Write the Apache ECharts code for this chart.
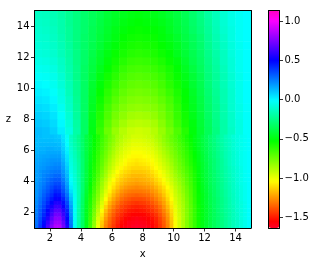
<!DOCTYPE html>
<html><head><meta charset="utf-8">
<style>html,body{margin:0;padding:0;background:#fff}#c{width:317px;height:266px}</style>
<script src="https://cdn.jsdelivr.net/npm/echarts@6/dist/echarts.min.js"></script>
</head><body><div id="c"></div>
<script>
const xFine=[1.125,1.375,1.625,1.875,2.125,2.375,2.625,2.875,3.125,3.375,3.625,3.875,4.125,4.375,4.625,4.875,5.125,5.375,5.625,5.875,6.125,6.375,6.625,6.875,7.125,7.375,7.625,7.875,8.125,8.375,8.625,8.875,9.125,9.375,9.625,9.875,10.125,10.375,10.625,10.875,11.125,11.375,11.625,11.875,12.125,12.375,12.625,12.875,13.125,13.375,13.625,13.875,14.125,14.375,14.625,14.875];
const zFine=[1.125,1.375,1.625,1.875,2.125,2.375,2.625,2.875,3.125,3.375,3.625,3.875,4.125,4.375,4.625,4.875,5.125,5.375,5.625,5.875,6.125,6.375,6.625,6.875];
const xCoarse=[1.25,1.75,2.25,2.75,3.25,3.75,4.25,4.75,5.25,5.75,6.25,6.75,7.25,7.75,8.25,8.75,9.25,9.75,10.25,10.75,11.25,11.75,12.25,12.75,13.25,13.75,14.25,14.75];
const zCoarse=[7.25,7.75,8.25,8.75,9.25,9.75,10.25,10.75,11.25,11.75,12.25,12.75,13.25,13.75,14.25,14.75];
const fieldLow=[
[.28,.39,.51,.64,.76,.85,.85,.72,.55,.27,-.03,-.19,-.33,-.48,-.65,-.82,-1.01,-1.16,-1.29,-1.37,-1.44,-1.5,-1.55,-1.58,-1.6,-1.62,-1.63,-1.62,-1.61,-1.59,-1.56,-1.51,-1.45,-1.38,-1.29,-1.17,-1.03,-.95,-.87,-.79,-.71,-.63,-.55,-.49,-.44,-.39,-.35,-.31,-.27,-.23,-.19,-.15,-.12,-.08,-.05,-.01],
[.27,.37,.48,.6,.72,.81,.81,.69,.52,.25,-.03,-.19,-.33,-.48,-.64,-.81,-.99,-1.14,-1.27,-1.35,-1.42,-1.48,-1.53,-1.56,-1.59,-1.6,-1.61,-1.6,-1.59,-1.57,-1.54,-1.5,-1.44,-1.37,-1.28,-1.16,-1.03,-.95,-.87,-.79,-.71,-.63,-.55,-.49,-.44,-.39,-.35,-.31,-.27,-.23,-.19,-.15,-.12,-.08,-.05,-.01],
[.26,.35,.45,.56,.68,.77,.77,.65,.49,.24,-.03,-.19,-.33,-.47,-.63,-.79,-.96,-1.11,-1.24,-1.33,-1.4,-1.46,-1.5,-1.54,-1.56,-1.58,-1.59,-1.58,-1.57,-1.55,-1.52,-1.48,-1.42,-1.35,-1.26,-1.15,-1.02,-.95,-.87,-.79,-.71,-.63,-.55,-.49,-.44,-.39,-.35,-.31,-.27,-.23,-.19,-.15,-.12,-.08,-.05,-.01],
[.25,.33,.42,.52,.63,.72,.72,.61,.46,.22,-.03,-.19,-.33,-.47,-.62,-.77,-.93,-1.08,-1.21,-1.3,-1.37,-1.43,-1.47,-1.51,-1.53,-1.55,-1.55,-1.55,-1.54,-1.52,-1.49,-1.45,-1.39,-1.32,-1.24,-1.13,-1.01,-.94,-.87,-.79,-.71,-.63,-.55,-.49,-.44,-.39,-.35,-.31,-.27,-.23,-.19,-.15,-.12,-.08,-.05,-.01],
[.24,.32,.4,.49,.59,.67,.67,.57,.43,.2,-.03,-.19,-.33,-.47,-.61,-.75,-.9,-1.03,-1.17,-1.27,-1.34,-1.4,-1.44,-1.47,-1.5,-1.51,-1.52,-1.51,-1.5,-1.48,-1.45,-1.41,-1.36,-1.29,-1.21,-1.11,-1.0,-.93,-.86,-.79,-.71,-.63,-.55,-.49,-.44,-.39,-.35,-.3,-.26,-.22,-.19,-.15,-.11,-.08,-.05,-.01],
[.23,.3,.37,.45,.54,.61,.61,.52,.39,.18,-.03,-.18,-.33,-.46,-.6,-.73,-.87,-.99,-1.13,-1.23,-1.3,-1.36,-1.41,-1.44,-1.46,-1.48,-1.49,-1.48,-1.47,-1.45,-1.42,-1.38,-1.33,-1.26,-1.18,-1.09,-.99,-.92,-.86,-.78,-.71,-.63,-.55,-.49,-.44,-.39,-.34,-.3,-.26,-.22,-.18,-.15,-.11,-.08,-.05,-.01],
[.22,.28,.35,.42,.49,.56,.56,.47,.35,.15,-.04,-.18,-.32,-.46,-.59,-.71,-.84,-.96,-1.08,-1.19,-1.26,-1.32,-1.37,-1.4,-1.42,-1.44,-1.45,-1.44,-1.43,-1.41,-1.38,-1.34,-1.29,-1.23,-1.15,-1.07,-.97,-.91,-.85,-.78,-.7,-.62,-.54,-.48,-.43,-.38,-.34,-.3,-.26,-.22,-.18,-.14,-.11,-.08,-.05,-.01],
[.21,.27,.33,.39,.45,.51,.51,.43,.31,.12,-.04,-.17,-.32,-.45,-.58,-.7,-.81,-.93,-1.04,-1.14,-1.22,-1.28,-1.33,-1.36,-1.38,-1.4,-1.4,-1.4,-1.39,-1.37,-1.34,-1.3,-1.25,-1.2,-1.12,-1.04,-.96,-.9,-.84,-.77,-.7,-.62,-.54,-.48,-.43,-.38,-.34,-.3,-.26,-.22,-.18,-.14,-.11,-.07,-.04,-.01],
[.2,.25,.31,.36,.41,.47,.46,.38,.27,.09,-.05,-.17,-.31,-.44,-.57,-.68,-.79,-.9,-1.0,-1.1,-1.18,-1.24,-1.29,-1.32,-1.34,-1.35,-1.36,-1.35,-1.34,-1.33,-1.3,-1.26,-1.22,-1.16,-1.09,-1.02,-.94,-.89,-.83,-.76,-.69,-.61,-.54,-.48,-.43,-.38,-.33,-.29,-.25,-.21,-.17,-.14,-.1,-.07,-.04,-.01],
[.2,.24,.29,.33,.38,.43,.42,.34,.23,.05,-.06,-.17,-.3,-.43,-.55,-.66,-.77,-.87,-.97,-1.06,-1.14,-1.2,-1.25,-1.28,-1.3,-1.31,-1.31,-1.31,-1.3,-1.29,-1.26,-1.23,-1.18,-1.13,-1.07,-1.0,-.93,-.87,-.81,-.75,-.68,-.61,-.53,-.47,-.42,-.37,-.33,-.29,-.25,-.21,-.17,-.13,-.1,-.07,-.04,-.01],
[.19,.23,.27,.31,.35,.39,.38,.31,.2,.02,-.07,-.17,-.3,-.42,-.54,-.65,-.75,-.85,-.94,-1.03,-1.1,-1.16,-1.21,-1.24,-1.26,-1.27,-1.28,-1.27,-1.26,-1.25,-1.23,-1.19,-1.15,-1.1,-1.04,-.98,-.91,-.86,-.8,-.74,-.67,-.6,-.53,-.47,-.42,-.37,-.33,-.28,-.24,-.2,-.17,-.13,-.1,-.07,-.04,-.01],
[.19,.22,.25,.29,.32,.35,.35,.28,.17,0,-.08,-.18,-.3,-.41,-.52,-.63,-.73,-.83,-.92,-1.01,-1.07,-1.13,-1.17,-1.2,-1.22,-1.23,-1.24,-1.23,-1.22,-1.21,-1.19,-1.15,-1.11,-1.06,-1.01,-.95,-.89,-.84,-.78,-.72,-.66,-.59,-.52,-.46,-.41,-.36,-.32,-.28,-.24,-.2,-.16,-.13,-.09,-.06,-.04,-.01],
[.18,.21,.24,.27,.3,.32,.32,.25,.15,-.02,-.09,-.18,-.3,-.41,-.51,-.61,-.71,-.81,-.89,-.98,-1.04,-1.1,-1.14,-1.17,-1.19,-1.2,-1.21,-1.2,-1.19,-1.18,-1.16,-1.12,-1.08,-1.03,-.98,-.93,-.87,-.82,-.77,-.71,-.65,-.58,-.52,-.46,-.41,-.36,-.32,-.28,-.24,-.2,-.16,-.13,-.09,-.06,-.03,-.01],
[.18,.2,.23,.25,.27,.29,.29,.22,.13,-.03,-.1,-.19,-.3,-.4,-.5,-.6,-.69,-.78,-.86,-.95,-1.01,-1.07,-1.11,-1.14,-1.16,-1.18,-1.18,-1.18,-1.17,-1.15,-1.13,-1.09,-1.05,-1.01,-.96,-.91,-.85,-.8,-.75,-.7,-.64,-.58,-.51,-.45,-.4,-.36,-.31,-.27,-.23,-.19,-.16,-.12,-.09,-.06,-.03,-.01],
[.18,.2,.22,.23,.25,.26,.26,.2,.11,-.05,-.11,-.19,-.3,-.4,-.5,-.59,-.67,-.76,-.84,-.92,-.98,-1.04,-1.08,-1.11,-1.13,-1.15,-1.15,-1.15,-1.14,-1.13,-1.1,-1.07,-1.03,-.99,-.94,-.89,-.83,-.78,-.73,-.68,-.63,-.57,-.5,-.45,-.4,-.35,-.31,-.27,-.23,-.19,-.15,-.12,-.09,-.06,-.03,-.01],
[.17,.19,.2,.22,.23,.24,.24,.18,.09,-.06,-.12,-.2,-.3,-.4,-.49,-.58,-.66,-.74,-.82,-.89,-.95,-1.01,-1.05,-1.08,-1.1,-1.12,-1.12,-1.12,-1.11,-1.1,-1.07,-1.04,-1.0,-.96,-.92,-.87,-.81,-.76,-.72,-.67,-.62,-.56,-.5,-.44,-.39,-.35,-.3,-.26,-.22,-.19,-.15,-.12,-.09,-.06,-.03,-.01],
[.17,.18,.19,.2,.21,.22,.22,.16,.07,-.07,-.13,-.2,-.3,-.4,-.49,-.57,-.65,-.72,-.8,-.87,-.93,-.98,-1.02,-1.05,-1.08,-1.09,-1.1,-1.09,-1.08,-1.07,-1.05,-1.02,-.98,-.94,-.9,-.85,-.79,-.75,-.7,-.65,-.6,-.55,-.49,-.44,-.39,-.34,-.3,-.26,-.22,-.18,-.14,-.11,-.08,-.05,-.03,-.01],
[.16,.17,.18,.19,.2,.2,.2,.14,.05,-.08,-.14,-.21,-.3,-.39,-.48,-.56,-.64,-.71,-.78,-.85,-.91,-.96,-1.0,-1.03,-1.06,-1.07,-1.08,-1.07,-1.06,-1.05,-1.03,-1.0,-.96,-.92,-.88,-.83,-.78,-.73,-.69,-.64,-.59,-.54,-.48,-.43,-.38,-.34,-.3,-.26,-.22,-.18,-.14,-.11,-.08,-.05,-.03,-.01],
[.15,.16,.17,.17,.18,.18,.18,.12,.04,-.09,-.15,-.22,-.31,-.39,-.48,-.56,-.63,-.7,-.76,-.83,-.89,-.94,-.98,-1.01,-1.03,-1.05,-1.05,-1.05,-1.04,-1.03,-1.01,-.98,-.94,-.9,-.86,-.81,-.76,-.72,-.67,-.63,-.58,-.53,-.48,-.43,-.38,-.33,-.29,-.25,-.21,-.17,-.14,-.11,-.08,-.05,-.03,-.01],
[.14,.15,.15,.16,.16,.16,.16,.1,.02,-.1,-.16,-.22,-.31,-.39,-.47,-.55,-.62,-.68,-.75,-.81,-.87,-.92,-.96,-.99,-1.01,-1.03,-1.03,-1.03,-1.02,-1.01,-.99,-.96,-.92,-.88,-.84,-.79,-.75,-.7,-.66,-.62,-.57,-.52,-.47,-.42,-.37,-.33,-.29,-.25,-.21,-.17,-.14,-.11,-.08,-.05,-.03,-.01],
[.13,.14,.14,.15,.15,.14,.14,.08,.01,-.11,-.17,-.23,-.31,-.39,-.47,-.54,-.61,-.67,-.73,-.79,-.85,-.9,-.94,-.97,-.99,-1.01,-1.01,-1.01,-1.0,-.99,-.97,-.94,-.9,-.86,-.82,-.78,-.73,-.69,-.65,-.61,-.56,-.51,-.46,-.41,-.37,-.32,-.28,-.24,-.2,-.17,-.13,-.1,-.07,-.05,-.03,-.01],
[.12,.13,.13,.13,.13,.13,.12,.07,-.01,-.12,-.18,-.23,-.31,-.39,-.46,-.53,-.6,-.66,-.72,-.78,-.83,-.88,-.92,-.95,-.97,-.99,-.99,-.99,-.98,-.97,-.95,-.92,-.88,-.84,-.8,-.76,-.72,-.68,-.64,-.6,-.55,-.5,-.45,-.41,-.36,-.32,-.28,-.24,-.2,-.16,-.13,-.1,-.07,-.05,-.03,-.01],
[.12,.12,.12,.12,.12,.11,.11,.05,-.02,-.13,-.19,-.24,-.32,-.39,-.46,-.53,-.59,-.65,-.71,-.76,-.81,-.86,-.9,-.93,-.95,-.97,-.97,-.97,-.96,-.95,-.93,-.9,-.86,-.82,-.78,-.74,-.7,-.66,-.62,-.58,-.54,-.49,-.45,-.4,-.36,-.31,-.27,-.23,-.19,-.16,-.13,-.1,-.07,-.05,-.03,-.01],
[.12,.12,.11,.11,.11,.1,.09,.04,-.03,-.14,-.19,-.24,-.32,-.39,-.46,-.52,-.58,-.64,-.7,-.75,-.8,-.85,-.88,-.91,-.93,-.95,-.95,-.95,-.94,-.93,-.91,-.88,-.85,-.81,-.77,-.73,-.69,-.65,-.61,-.57,-.53,-.49,-.44,-.4,-.35,-.31,-.27,-.23,-.19,-.15,-.12,-.09,-.07,-.05,-.03,-.01]
];
const fieldHigh=[
[.12,.11,.08,.02,-.07,-.19,-.33,-.49,-.63,-.74,-.83,-.89,-.93,-.94,-.93,-.89,-.83,-.76,-.68,-.6,-.51,-.43,-.35,-.27,-.19,-.13,-.07,-.02],
[.10,.09,.06,0,-.09,-.2,-.33,-.48,-.61,-.71,-.79,-.85,-.89,-.9,-.89,-.86,-.8,-.73,-.65,-.57,-.5,-.42,-.34,-.26,-.19,-.12,-.07,-.02],
[.08,.07,.04,-.02,-.1,-.21,-.33,-.47,-.59,-.68,-.76,-.81,-.85,-.86,-.85,-.82,-.77,-.71,-.63,-.56,-.48,-.41,-.33,-.25,-.18,-.12,-.06,-.02],
[.06,.05,.02,-.04,-.12,-.22,-.33,-.46,-.57,-.66,-.73,-.78,-.81,-.82,-.81,-.79,-.75,-.69,-.62,-.54,-.47,-.4,-.32,-.25,-.18,-.11,-.06,-.02],
[.04,.03,0,-.06,-.13,-.23,-.33,-.45,-.55,-.63,-.7,-.75,-.78,-.79,-.78,-.76,-.72,-.67,-.6,-.53,-.46,-.39,-.31,-.24,-.17,-.11,-.05,-.01],
[.02,.01,-.02,-.07,-.15,-.24,-.33,-.44,-.53,-.61,-.67,-.72,-.75,-.76,-.75,-.73,-.69,-.64,-.58,-.52,-.45,-.38,-.3,-.23,-.17,-.11,-.05,-.01],
[0,-.01,-.04,-.09,-.16,-.24,-.33,-.43,-.51,-.58,-.64,-.69,-.72,-.73,-.72,-.7,-.66,-.61,-.56,-.5,-.43,-.37,-.29,-.22,-.16,-.1,-.05,-.01],
[-.02,-.03,-.05,-.1,-.17,-.25,-.33,-.41,-.49,-.56,-.61,-.66,-.69,-.7,-.69,-.67,-.64,-.59,-.54,-.48,-.42,-.36,-.28,-.22,-.16,-.1,-.05,-.01],
[-.04,-.05,-.07,-.12,-.18,-.25,-.33,-.4,-.47,-.53,-.58,-.63,-.66,-.67,-.66,-.64,-.61,-.57,-.52,-.46,-.4,-.34,-.27,-.21,-.15,-.09,-.04,-.01],
[-.06,-.07,-.09,-.13,-.19,-.26,-.32,-.39,-.45,-.51,-.56,-.6,-.63,-.64,-.63,-.61,-.58,-.54,-.5,-.44,-.38,-.33,-.26,-.2,-.14,-.09,-.04,-.01],
[-.08,-.09,-.11,-.15,-.2,-.26,-.32,-.38,-.44,-.49,-.54,-.57,-.6,-.61,-.6,-.58,-.55,-.52,-.47,-.42,-.37,-.32,-.25,-.19,-.14,-.08,-.04,-.01],
[-.09,-.1,-.12,-.16,-.21,-.27,-.32,-.37,-.42,-.47,-.51,-.55,-.57,-.58,-.57,-.56,-.53,-.5,-.46,-.41,-.36,-.31,-.24,-.18,-.13,-.08,-.04,-.01],
[-.1,-.11,-.13,-.17,-.22,-.27,-.32,-.36,-.41,-.45,-.49,-.53,-.55,-.56,-.55,-.54,-.51,-.48,-.44,-.39,-.35,-.3,-.23,-.17,-.12,-.07,-.03,-.01],
[-.11,-.12,-.14,-.18,-.22,-.27,-.31,-.36,-.4,-.44,-.48,-.51,-.53,-.54,-.53,-.52,-.5,-.46,-.42,-.38,-.33,-.28,-.22,-.16,-.11,-.07,-.03,-.01],
[-.12,-.13,-.15,-.18,-.23,-.27,-.31,-.35,-.39,-.43,-.46,-.49,-.51,-.52,-.51,-.5,-.48,-.45,-.41,-.37,-.32,-.27,-.21,-.15,-.1,-.06,-.03,-.01],
[-.13,-.14,-.16,-.19,-.23,-.27,-.31,-.35,-.38,-.42,-.45,-.47,-.49,-.5,-.49,-.48,-.46,-.43,-.4,-.36,-.31,-.26,-.2,-.15,-.1,-.06,-.03,-.01]
];
const xTicks=[2,4,6,8,10,12,14];
const zTicks=[2,4,6,8,10,12,14];
const barTicks=[-1.5,-1,-0.5,0,0.5,1];
const barMin=-1.634, barMax=1.134;
/* gist_rainbow colormap stops */
const rainbowStops=[[0,[255,0,41]],[.03,[255,0,0]],[.215,[255,255,0]],[.4,[0,255,0]],[.586,[0,255,255]],[.77,[0,0,255]],[.954,[255,0,255]],[1,[255,0,191]]];
function rainbow(t){
 for(let k=1;k<rainbowStops.length;k++){
  const a=rainbowStops[k-1],b=rainbowStops[k];
  if(t<=b[0]){const f=(t-a[0])/(b[0]-a[0]);
   return 'rgb('+a[1].map((c,n)=>Math.round(c+(b[1][n]-c)*f)).join(',')+')';}
 }
 return 'rgb(255,0,191)';
}
const barColors=[];for(let k=0;k<=256;k++)barColors.push(rainbow(k/256));

function toCells(m){const out=[];m.forEach((row,j)=>row.forEach((v,i)=>out.push([i,j,v])));return out;}
const ink='#000';
const font={fontFamily:'DejaVu Sans',fontSize:10,color:ink};
const line={show:true,onZero:false,lineStyle:{color:ink,width:1}};
const tick={show:true,length:3.5,lineStyle:{color:ink,width:0.8}};
const off={show:false};
const frame=(g,pos,min,max)=>({type:'value',gridIndex:g,position:pos,min,max,axisLine:line,axisTick:off,axisLabel:off,splitLine:off,z:10});
const band=(g,pos,data)=>({type:'category',gridIndex:g,position:pos,data,show:false});
const plotLeft=34.5,plotTop=10.5,plotW=216.5,plotH=217.5,zSplitY=plotTop+plotH*8/14;
const chart=echarts.init(document.getElementById('c'),null,{renderer:'canvas'});
chart.setOption({
 animation:false,backgroundColor:'#fff',
 grid:[{left:plotLeft,top:plotTop,width:plotW,height:plotH},
       {left:268.5,top:plotTop,width:11,height:plotH},
       {left:plotLeft,top:plotTop,width:plotW,height:zSplitY-plotTop},
       {left:plotLeft,top:zSplitY,width:plotW,height:plotTop+plotH-zSplitY}],
 xAxis:[
  {type:'value',gridIndex:0,position:'bottom',min:1,max:15,axisLine:line,
   axisTick:Object.assign({},tick,{customValues:xTicks}),
   axisLabel:Object.assign({show:true,margin:5,customValues:xTicks},font),splitLine:off,z:10,
   name:'x',nameLocation:'middle',nameGap:21,nameTextStyle:font},
  frame(0,'top',1,15),
  frame(1,'bottom',0,1),frame(1,'top',0,1),
  band(2,'bottom',xCoarse),band(3,'bottom',xFine)
 ],
 yAxis:[
  {type:'value',gridIndex:0,position:'left',min:1,max:15,axisLine:line,
   axisTick:Object.assign({},tick,{customValues:zTicks}),
   axisLabel:Object.assign({show:true,margin:5,customValues:zTicks},font),splitLine:off,z:10,
   name:'z',nameLocation:'middle',nameRotate:0,nameGap:19,
   nameTextStyle:Object.assign({padding:[0,0,9,0]},font)},
  frame(0,'right',1,15),
  {type:'value',gridIndex:1,position:'right',min:barMin,max:barMax,axisLine:line,
   axisTick:Object.assign({},tick,{customValues:barTicks}),
   axisLabel:Object.assign({show:true,margin:5,customValues:barTicks,
     formatter:v=>(v<0?'\u2212':'')+Math.abs(v).toFixed(1)},font),splitLine:off,z:10},
  frame(1,'left',barMin,barMax),
  band(2,'left',zCoarse),band(3,'left',zFine)
 ],
 visualMap:{type:'continuous',seriesIndex:[0,1],min:barMin,max:barMax,calculable:false,
  left:268.5,top:plotTop,itemWidth:11,itemHeight:plotH,text:['',''],showLabel:false,
  hoverLink:false,realtime:false,inRange:{color:barColors},textStyle:{color:'transparent'},padding:0},
 series:[
  {type:'heatmap',xAxisIndex:4,yAxisIndex:4,data:toCells(fieldHigh),progressive:0,silent:true,itemStyle:{borderWidth:0}},
  {type:'heatmap',xAxisIndex:5,yAxisIndex:5,data:toCells(fieldLow),progressive:0,silent:true,itemStyle:{borderWidth:0}}
 ]
});
</script></body></html>
